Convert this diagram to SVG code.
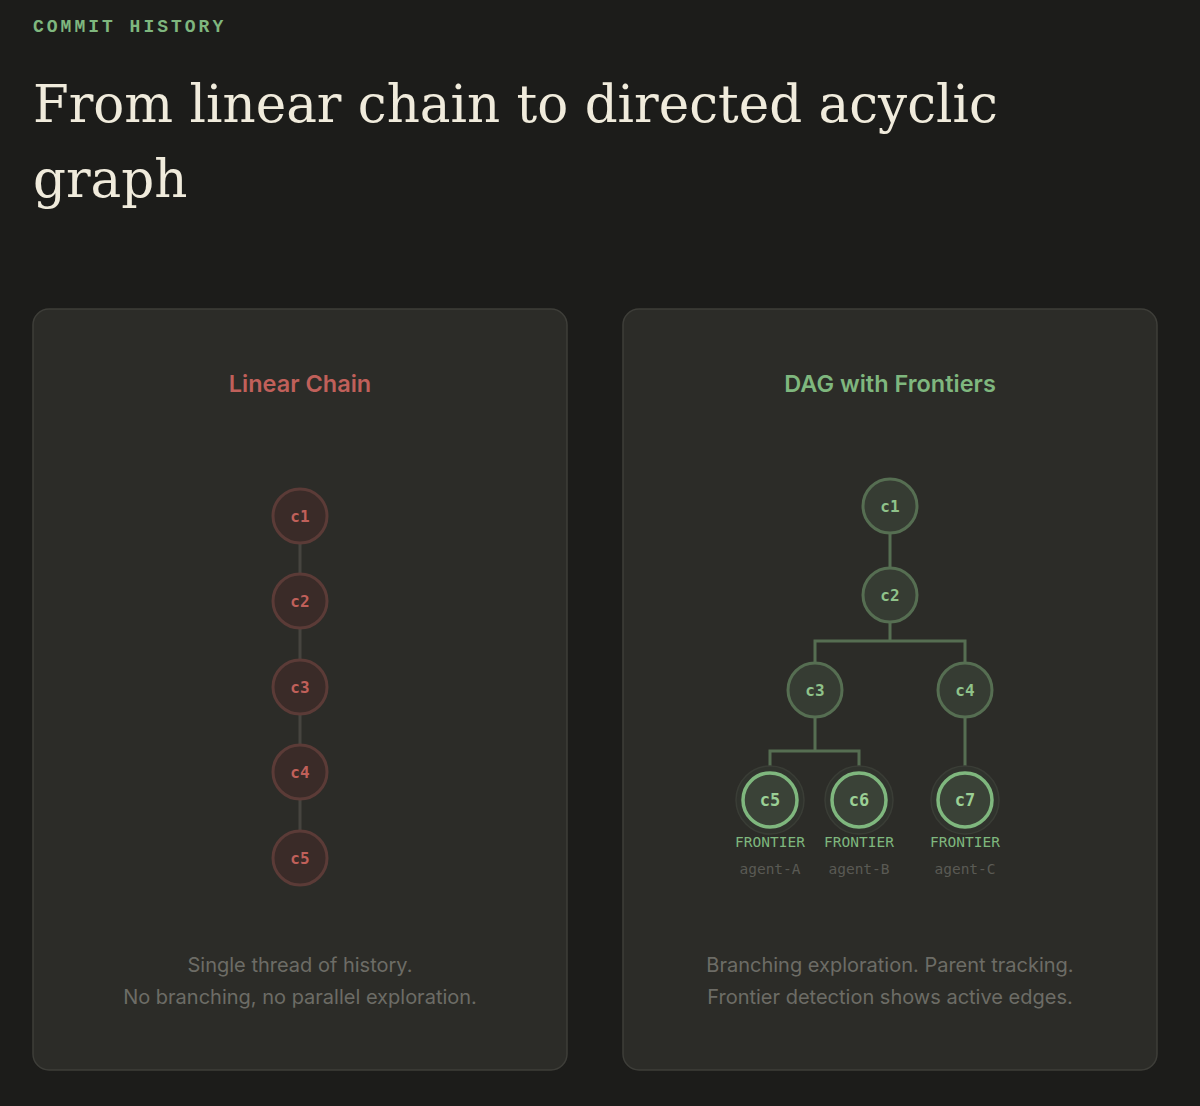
<svg xmlns="http://www.w3.org/2000/svg" width="1200" height="1106" viewBox="0 0 1200 1106">
<style>
.eyebrow{font-family:"Liberation Mono","DejaVu Sans Mono",monospace;font-weight:700;font-size:18px;letter-spacing:3px;fill:#7fb77e}
.title{font-family:"DejaVu Serif","Liberation Serif",serif;font-size:51.5px;fill:#f0ebdc}
.panel{fill:#2c2c28;stroke:#3e3e39;stroke-width:1.5}
.ptitle{font-family:Inter,"Noto Sans",sans-serif;font-weight:600;font-size:23.5px;text-anchor:middle}
.desc{font-family:Inter,"Noto Sans",sans-serif;font-size:20px;fill:#6d6c66;text-anchor:middle}
.redn{fill:#3a2b28;stroke:#5b3b37;stroke-width:3}
.redt{font-family:"DejaVu Sans Mono","Liberation Mono",monospace;font-weight:700;font-size:16px;fill:#c0605a;text-anchor:middle}
.grn{fill:#363c33;stroke:#566e52;stroke-width:3}
.grnf{fill:#3a4237;stroke:#7fb77e;stroke-width:3.5}
.halo{fill:#30332d;stroke:#3a3d36;stroke-width:1.5}
.grt{font-family:"DejaVu Sans Mono","Liberation Mono",monospace;font-weight:700;font-size:16px;fill:#8fc28a;text-anchor:middle}
.grtf{font-family:"DejaVu Sans Mono","Liberation Mono",monospace;font-weight:700;font-size:17px;fill:#9bd095;text-anchor:middle}
.fl{font-family:"DejaVu Sans Mono","Liberation Mono",monospace;font-size:14.5px;fill:#7fb77e;text-anchor:middle}
.al{font-family:"DejaVu Sans Mono","Liberation Mono",monospace;font-size:14.5px;fill:#5a5a54;text-anchor:middle}
.redl{stroke:#46443f;stroke-width:3;fill:none}
.grl{stroke:#566e52;stroke-width:3;fill:none}
</style>
<rect width="1200" height="1106" fill="#1c1c1a"/>
<text class="eyebrow" x="33" y="32">COMMIT HISTORY</text>
<text class="title" x="33" y="122">From linear chain to directed acyclic</text>
<text class="title" x="33" y="197">graph</text>

<g id="panel-left">
<rect class="panel" x="33" y="309" width="534" height="761" rx="16"/>
<text class="ptitle" x="300" y="392" fill="#c0605a">Linear Chain</text>
<text class="desc" x="300" y="972">Single thread of history.</text>
<text class="desc" x="300" y="1004">No branching, no parallel exploration.</text>
</g>
<g id="panel-right">
<rect class="panel" x="623" y="309" width="534" height="761" rx="16"/>
<text class="ptitle" x="890" y="392" fill="#7fb77e">DAG with Frontiers</text>
<text class="desc" x="890" y="972">Branching exploration. Parent tracking.</text>
<text class="desc" x="890" y="1004">Frontier detection shows active edges.</text>
</g>

<g id="connectors">
<line class="redl" x1="300" y1="543" x2="300" y2="574"/>
<line class="redl" x1="300" y1="628" x2="300" y2="660"/>
<line class="redl" x1="300" y1="714" x2="300" y2="745"/>
<line class="redl" x1="300" y1="799" x2="300" y2="831"/>
<line class="grl" x1="890" y1="533" x2="890" y2="568"/>
<path class="grl" d="M890 622 V641 M815 663 V641 H965 V663"/>
<path class="grl" d="M815 717 V751 M770 773 V751 H859 V773"/>
<line class="grl" x1="965" y1="717" x2="965" y2="773"/>
</g>

<g id="lc1"><circle class="redn" cx="300" cy="516" r="27"/><text class="redt" x="300" y="522">c1</text></g>
<g id="lc2"><circle class="redn" cx="300" cy="601" r="27"/><text class="redt" x="300" y="607">c2</text></g>
<g id="lc3"><circle class="redn" cx="300" cy="687" r="27"/><text class="redt" x="300" y="693">c3</text></g>
<g id="lc4"><circle class="redn" cx="300" cy="772" r="27"/><text class="redt" x="300" y="778">c4</text></g>
<g id="lc5"><circle class="redn" cx="300" cy="858" r="27"/><text class="redt" x="300" y="864">c5</text></g>

<g id="dc1"><circle class="grn" cx="890" cy="506" r="27"/><text class="grt" x="890" y="512">c1</text></g>
<g id="dc2"><circle class="grn" cx="890" cy="595" r="27"/><text class="grt" x="890" y="601">c2</text></g>
<g id="dc3"><circle class="grn" cx="815" cy="690" r="27"/><text class="grt" x="815" y="696">c3</text></g>
<g id="dc4"><circle class="grn" cx="965" cy="690" r="27"/><text class="grt" x="965" y="696">c4</text></g>
<g id="dc5"><circle class="halo" cx="770" cy="800" r="34"/><circle class="grnf" cx="770" cy="800" r="27"/><text class="grtf" x="770" y="806">c5</text><text class="fl" x="770" y="847">FRONTIER</text><text class="al" x="770" y="874">agent-A</text></g>
<g id="dc6"><circle class="halo" cx="859" cy="800" r="34"/><circle class="grnf" cx="859" cy="800" r="27"/><text class="grtf" x="859" y="806">c6</text><text class="fl" x="859" y="847">FRONTIER</text><text class="al" x="859" y="874">agent-B</text></g>
<g id="dc7"><circle class="halo" cx="965" cy="800" r="34"/><circle class="grnf" cx="965" cy="800" r="27"/><text class="grtf" x="965" y="806">c7</text><text class="fl" x="965" y="847">FRONTIER</text><text class="al" x="965" y="874">agent-C</text></g>
</svg>
